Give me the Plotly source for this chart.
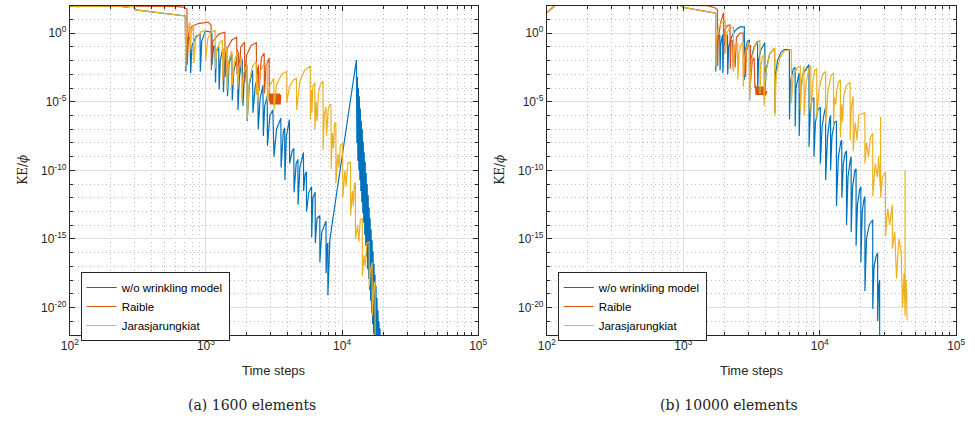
import plotly.graph_objects as go

# ---------------- data (time step, log10 of KE/phi) ----------------
# Panel (a) 1600 elements
a_wo = [(100,1.98),(115,1.93),(125,1.97),(180,1.98),(240,1.96),(255,1.88),(290,1.96),(305,1.7),(400,1.55),(550,1.4),(705,1.25),
        (712,-2.8),(722,-1.0),(750,-0.35),(765,-0.3),
        (772,-2.9),(790,-0.9),(850,-0.2),(905,-0.1),
        (910,-2.8),(930,-0.6),(990,0.15),(1060,0.1),(1105,0.0),
        (1110,-2.3),(1135,-1.0),(1165,-0.9),
        (1175,-3.6),(1195,-1.3),(1240,-1.0),
        (1250,-4.1),(1275,-2.0),(1330,-1.1),
        (1345,-4.3),(1370,-2.0),(1420,-1.2),
        (1440,-4.6),(1480,-2.2),(1550,-1.5),
        (1560,-4.9),(1600,-2.8),(1700,-1.7),
        (1720,-5.6),(1760,-3.2),(1850,-1.9),
        (1870,-5.3),(1920,-3.0),(2000,-2.3),
        (2010,-6.4),(2080,-3.8),(2200,-2.7),
        (2215,-5.8),(2300,-3.9),(2400,-3.1),
        (2420,-7.0),(2500,-4.8),(2620,-3.8),
        (2640,-7.5),(2700,-5.3),(2820,-4.6),
        (2830,-8.2),(2950,-6.0),(3100,-5.6),
        (3160,-9.0),(3300,-7.0),(3550,-6.2),
        (3565,-9.8),(3700,-7.2),(3790,-6.9),
        (3800,-10.7),(3900,-7.5),(4100,-6.3),
        (4120,-9.5),(4300,-8.6),(4420,-8.4),
        (4440,-11.6),(4600,-9.5),(4740,-9.2),
        (4750,-12.5),(4900,-9.8),(5200,-8.7),
        (5220,-11.5),(5350,-10.3),(5470,-10.1),
        (5480,-13.0),(5700,-11.6),(5970,-11.2),
        (5980,-14.9),(6100,-12.0),(6340,-11.6),
        (6360,-15.3),(6550,-13.5),(6860,-13.3),
        (6870,-16.7),(7100,-14.5),(7620,-13.7),
        (7630,-17.5),(7750,-15.5),(7860,-15.3),
        (7870,-19.1),(8140,-15.0),
        (12740,-1.96),(12850,-8.0),(12955,-3.2),(13060,-9.3),(13175,-4.0),(13290,-10.0),(13396,-4.6),(13510,-10.7),
        (13620,-5.5),(13730,-11.5),(13848,-6.4),(13960,-12.3),(14080,-7.0),(14200,-13.1),(14313,-7.9),(14430,-13.8),
        (14553,-8.7),(14670,-14.7),(14797,-9.4),(14920,-15.5),(15046,-10.2),(15170,-16.3),(15296,-11.0),(15420,-17.2),
        (15553,-11.8),(15680,-17.9),(15813,-12.7),(15945,-18.7),(16078,-13.5),(16210,-19.5),(16347,-14.3),(16480,-20.4),
        (16621,-15.1),(16760,-21.2),(16900,-15.9),(17040,-21.9),(17180,-16.8),(17320,-22.7),(17470,-17.6),(17610,-23.0),
        (17762,-18.4),(17910,-23.0),(18060,-19.3),(18210,-23.0),(18360,-20.2),(18520,-23.0),(18670,-21.0),(18830,-23.0),
        (18980,-21.5),(19100,-23.0)]

a_raible = [(100,1.99),(200,1.99),(400,1.98),(600,1.95),(680,1.9),(725,1.75),
            (730,-2.3),(745,0.0),(790,0.5),(880,0.7),(1040,0.8),
            (1090,0.6),(1095,-2.7),(1120,-0.6),(1250,-0.05),(1377,0.07),
            (1385,-3.2),(1420,-1.2),(1550,-0.5),(1681,-0.3),
            (1690,-3.0),(1700,-1.2),(1710,-3.2),(1730,-1.4),(1760,-3.0),(1800,-1.0),(1920,-0.65),
            (1930,-3.6),(1990,-1.6),(2150,-0.9),(2343,-0.7),
            (2360,-4.5),(2380,-2.5),(2400,-4.6),(2430,-2.3),(2460,-4.2),(2550,-1.8),(2678,-1.45),
            (2690,-4.4),(2760,-2.4),(2910,-1.8),
            (2920,-5.0),(2940,-4.4),(2970,-5.2),(3000,-4.4),(3030,-5.2),(3060,-4.4),(3090,-5.2),(3120,-4.4),
            (3150,-5.2),(3180,-4.4),(3210,-5.2),(3240,-4.4),(3270,-5.2),(3300,-4.4),(3330,-5.2),(3360,-4.4),
            (3390,-5.2),(3420,-4.4),(3450,-5.2),(3480,-4.4),(3510,-5.2),(3550,-4.5)]

a_jar = [(100,1.98),(115,1.93),(125,1.97),(180,1.98),(240,1.96),(255,1.88),(290,1.96),(305,1.7),(400,1.55),(550,1.4),(705,1.25),
         (710,-2.5),(718,-0.5),(745,0.4),(760,0.8),
         (768,-1.2),(780,0.1),(809,0.58),
         (815,-2.2),(840,-0.4),(920,0.1),(988,0.2),
         (995,-2.0),(1030,-0.4),(1100,0.1),(1167,0.2),
         (1175,-2.6),(1200,-1.2),(1280,-0.6),(1320,-0.55),
         (1330,-3.5),(1360,-1.5),(1420,-1.0),
         (1430,-4.1),(1470,-2.0),(1550,-1.3),
         (1560,-3.8),(1620,-2.0),(1700,-1.4),
         (1710,-4.1),(1740,-2.6),(1827,-1.7),
         (1835,-5.0),(1880,-3.0),(2000,-2.3),
         (2010,-6.3),(2080,-3.6),(2200,-2.4),(2343,-2.1),
         (2350,-4.5),(2380,-3.0),(2400,-5.0),(2500,-2.8),(2650,-2.3),(2814,-2.2),
         (2825,-5.0),(2950,-3.8),(3150,-3.3),(3165,-5.6),(3300,-3.8),(3600,-3.0),(3920,-2.8),
         (3930,-5.1),(4100,-3.9),(4400,-3.4),(4625,-3.3),
         (4635,-5.6),(4900,-3.5),(5300,-2.7),(5840,-2.4),
         (5850,-6.3),(5950,-4.2),(6000,-5.8),(6100,-3.9),(6300,-3.6),
         (6320,-7.0),(6450,-5.0),(6550,-6.4),(6700,-4.4),(6900,-3.8),(7245,-3.5),
         (7260,-8.5),(7400,-6.0),(7600,-5.4),(7700,-7.5),(7900,-5.6),(8100,-5.2),(8300,-5.2),
         (8320,-9.9),(8500,-7.3),(8650,-8.4),(8800,-6.6),(9000,-6.5),
         (9020,-10.9),(9300,-8.8),(9500,-9.8),(9700,-8.2),(10100,-8.0),
         (10120,-12.0),(10500,-10.0),(10700,-11.2),(11000,-9.5),(11530,-9.4),
         (11550,-13.3),(11900,-11.5),(12100,-12.6),(12300,-11.0),(12530,-10.9),
         (12550,-15.0),(13000,-14.0),(13300,-15.2),(13600,-13.6),(14080,-13.5),
         (14100,-17.7),(14500,-16.2),(14800,-17.0),(15200,-15.3),(15810,-15.2),
         (15830,-18.5),(16100,-17.4),(16400,-16.8),(16630,-16.7),
         (16650,-20.6),(16900,-19.0),(17200,-18.2),(17470,-18.1),
         (17490,-23.0)]

# Panel (b) 10000 elements
b_wo = [(100,1.5),(116,2.05),(300,2.05),(700,2.05),(950,2.02),(1000,1.88),(1300,1.65),(1726,1.45),
        (1730,-2.8),(1745,-0.9),(1800,-0.3),(1850,-0.15),
        (1860,-2.7),(1880,-0.8),(1940,-0.1),
        (1950,-2.9),(1975,-1.0),(2060,-0.2),(2108,-0.15),
        (2115,-3.0),(2150,-1.0),(2250,-0.3),(2400,0.2),(2600,0.45),(2800,0.45),
        (2810,-3.4),(2850,-1.2),(2950,-0.6),(3050,-0.5),
        (3060,-4.9),(3120,-2.0),(3300,-1.0),(3500,-0.6),
        (3510,-4.2),(3560,-2.0),(3700,-1.2),(3956,-0.7),
        (3965,-4.6),(4050,-2.6),(4300,-1.5),(4670,-1.1),
        (4680,-5.8),(4750,-3.0),(4900,-2.0),(5200,-1.4),(5500,-1.2),(5990,-1.2),
        (6000,-6.3),(6100,-3.5),(6400,-2.6),(6600,-2.5),
        (6610,-6.8),(6700,-4.0),(6900,-3.2),(7060,-2.9),
        (7070,-7.5),(7200,-4.5),(7500,-3.0),(8340,-2.3),
        (8350,-8.3),(8550,-5.5),(8800,-4.8),(9060,-4.7),
        (9070,-9.0),(9300,-6.5),(9700,-5.6),(10100,-5.4),
        (10110,-9.5),(10400,-6.8),(10800,-5.8),(11040,-5.4),
        (11050,-10.7),(11400,-7.6),(11800,-6.3),(12000,-6.0),
        (12010,-10.0),(12300,-7.5),(12800,-6.5),(13250,-6.4),
        (13260,-12.6),(13700,-9.0),(14300,-7.9),(14500,-7.8),
        (14510,-12.0),(14900,-9.5),(15400,-8.7),(15700,-8.6),
        (15710,-14.0),(16100,-10.5),(16700,-9.3),(16990,-9.0),
        (17000,-14.5),(17400,-11.2),(18100,-10.0),(18460,-9.9),
        (18470,-15.5),(18900,-12.5),(19600,-11.4),(20000,-11.2),
        (20010,-16.7),(20500,-13.0),(21000,-12.2),(21430,-11.9),
        (21440,-18.8),(22000,-15.0),(23000,-14.0),(24450,-13.6),
        (24460,-20.1),(25000,-17.0),(26000,-16.2),(26560,-16.0),
        (26570,-21.0),(27000,-18.5),(27470,-18.0),(27480,-23.0)]

b_raible = [(100,1.5),(116,2.05),(500,2.05),(1000,2.05),(1500,2.0),(1700,1.85),(1780,1.7),
            (1786,-2.4),(1800,-0.5),(1880,0.8),(1973,1.5),
            (1980,-1.5),(2000,0.2),(2100,0.55),(2200,0.6),
            (2210,-2.6),(2240,-0.5),(2300,-0.6),(2320,-2.7),(2350,-0.8),(2400,-2.5),(2450,-0.3),(2600,0.0),(2748,0.0),
            (2755,-3.2),(2780,-1.5),(2800,-3.0),(2830,-1.2),(2860,-3.2),(2900,-1.3),(3000,-0.9),(3100,-0.9),
            (3110,-3.6),(3200,-2.0),(3300,-1.8),
            (3352,-4.0),(3380,-3.8),(3410,-4.5),(3440,-3.9),(3470,-4.5),(3500,-3.9),(3530,-4.5),(3560,-3.9),
            (3590,-4.5),(3620,-3.9),(3650,-4.5),(3680,-3.9),(3710,-4.5),(3740,-3.9),(3770,-4.5),(3800,-3.9),
            (3830,-4.5),(3860,-3.9),(3890,-4.5),(3920,-3.9),(3950,-4.5),(3990,-3.9),(4030,-4.5),(4090,-4.2)]

b_jar = [(100,1.5),(116,2.05),(300,2.05),(700,2.05),(950,2.02),(1000,1.88),(1300,1.65),(1726,1.45),
         (1730,-2.4),(1745,-0.6),(1800,0.3),(1900,0.75),(2030,0.94),
         (2040,-1.5),(2080,0.0),(2200,0.4),(2328,0.43),
         (2335,-2.8),(2370,-1.2),(2450,-0.8),(2500,-0.75),
         (2510,-3.4),(2560,-1.5),(2650,-0.8),(2748,-0.65),
         (2755,-3.9),(2800,-1.8),(2950,-0.9),(3050,-0.7),
         (3060,-4.9),(3150,-2.0),(3350,-0.9),(3641,-0.5),
         (3650,-4.4),(3700,-2.4),(3800,-1.7),(3900,-1.6),
         (3910,-5.3),(4000,-3.0),(4300,-1.5),(4670,-1.1),
         (4680,-6.0),(4800,-3.0),(5100,-1.8),(5500,-1.3),(6185,-1.2),
         (6195,-5.1),(6400,-3.0),(6900,-2.5),(7200,-2.4),
         (7210,-5.6),(7400,-3.5),(7670,-2.4),
         (7680,-6.0),(7900,-3.8),(8300,-2.6),(8610,-2.4),
         (8620,-5.8),(8900,-3.5),(9200,-2.7),(9510,-2.6),
         (9520,-6.2),(9900,-4.0),(10500,-3.0),(11040,-2.8),
         (11050,-6.6),(11500,-4.2),(12100,-3.1),(12610,-2.9),
         (12620,-6.8),(12800,-4.7),(13100,-5.2),(13300,-4.3),(13700,-3.6),(14160,-3.4),
         (14170,-7.6),(14500,-5.2),(14700,-6.5),(15000,-4.6),(15700,-3.8),(16710,-3.6),
         (16720,-7.8),(17000,-5.5),(17570,-4.6),
         (17580,-8.6),(18200,-6.5),(18800,-7.8),(19300,-6.0),(20200,-5.9),(21430,-5.8),
         (21440,-9.5),(22000,-8.0),(22800,-9.0),(23500,-7.6),(24450,-7.3),
         (24460,-11.9),(25500,-9.5),(26500,-10.5),(27000,-9.0),
         (27900,-11.5),(27930,-6.1),(27960,-12.0),(28800,-10.5),(30350,-10.1),
         (30360,-14.8),(31500,-12.8),(32500,-14.0),(34060,-12.5),
         (34070,-15.7),(35500,-14.5),(36500,-17.9),(38000,-15.0),(39500,-16.0),(40500,-20.0),(41500,-17.5),(42200,-20.6),
         (42230,-10.0),(42260,-20.0),(43000,-18.0),(43650,-20.9)]

series_names = ["w/o wrinkling model", "Raible", "Jarasjarungkiat"]
series_colors = ["#0072BD", "#D95319", "#EDB120"]

x_tick_vals = [1e2, 1e3, 1e4, 1e5]
x_tick_text = ["10<sup>2</sup>", "10<sup>3</sup>", "10<sup>4</sup>", "10<sup>5</sup>"]
x_minor_vals = [m * 10 ** k for k in (2, 3, 4) for m in range(2, 10)]
y_tick_vals = [1e0, 1e-5, 1e-10, 1e-15, 1e-20]
y_tick_text = ["10<sup>0</sup>", "10<sup>-5</sup>", "10<sup>-10</sup>", "10<sup>-15</sup>", "10<sup>-20</sup>"]
y_minor_vals = [10.0 ** k for k in range(2, -23, -1) if k % 5 != 0]

captions = ["(a) 1600 elements", "(b) 10000 elements"]

# ---------------- figure ----------------
W, H = 975, 421
fig = go.Figure()

panels = [(a_wo, a_raible, a_jar), (b_wo, b_raible, b_jar)]
for p, group in enumerate(panels):
    for s, data in enumerate(group):
        t = [d[0] for d in data]
        ke = [10.0 ** d[1] for d in data]
        fig.add_trace(go.Scatter(
            x=t, y=ke, mode="lines", name=series_names[s],
            line=dict(color=series_colors[s], width=1.2),
            xaxis="x" if p == 0 else "x2", yaxis="y" if p == 0 else "y2",
            legend="legend" if p == 0 else "legend2", showlegend=True))

axis_font = dict(family="Liberation Sans, Arial, sans-serif", size=12, color="#262626")
common = dict(type="log", showline=True, linecolor="#262626", linewidth=1, mirror="allticks",
              ticks="inside", ticklen=5, tickcolor="#262626", tickfont=axis_font,
              showgrid=True, gridcolor="#e0e0e0", gridwidth=1, zeroline=False)
minor_common = dict(tickmode="array", ticks="inside", ticklen=3, tickcolor="#262626",
                    showgrid=True, gridcolor="#bdbdbd", griddash="1px,3px", gridwidth=1)

def xax(domain, anchor):
    return dict(common, domain=domain, anchor=anchor, range=[2, 5], tickmode="array",
                tickvals=x_tick_vals, ticktext=x_tick_text,
                minor=dict(minor_common, tickvals=x_minor_vals))

def yax(anchor):
    return dict(common, domain=[(H - 335) / H, (H - 5.7) / H], anchor=anchor, range=[-22, 2],
                tickmode="array", tickvals=y_tick_vals, ticktext=y_tick_text,
                minor=dict(minor_common, tickvals=y_minor_vals))

leg_common = dict(xanchor="left", yanchor="top", bordercolor="#262626", borderwidth=1,
                  bgcolor="white", font=dict(family="Liberation Sans, Arial, sans-serif", size=11.5, color="#000"),
                  tracegroupgap=0, itemwidth=30)

fig.update_layout(
    width=W, height=H, margin=dict(l=0, r=0, t=0, b=0),
    paper_bgcolor="white", plot_bgcolor="white", showlegend=True,
    xaxis=xax([62 / W, 478 / W], "y"),
    yaxis=yax("x"),
    xaxis2=xax([548 / W, 965 / W], "y2"),
    yaxis2=yax("x2"),
    legend=dict(leg_common, x=73 / W, y=1 - 272 / H),
    legend2=dict(leg_common, x=559 / W, y=1 - 272 / H),
)

ann = []
for cx, lx in [(270, 14), (756.5, 500)]:
    ann.append(dict(x=cx / W, y=1 - 370 / H, xref="paper", yref="paper", text="Time steps",
                    showarrow=False, xanchor="center", yanchor="middle",
                    font=dict(family="Liberation Sans, Arial, sans-serif", size=13, color="#262626")))
    ann.append(dict(x=lx / W, y=1 - 170 / H, xref="paper", yref="paper", text="KE/<i>ϕ</i>",
                    textangle=-90, showarrow=False, xanchor="center", yanchor="middle",
                    font=dict(family="DejaVu Serif, serif", size=12, color="#262626")))
cap_x = [248, 734]
for i in range(2):
    ann.append(dict(x=cap_x[i] / W, y=1 - 405 / H, xref="paper", yref="paper", text=captions[i],
                    showarrow=False, xanchor="center", yanchor="middle",
                    font=dict(family="DejaVu Serif, serif", size=14, color="#222")))
fig.update_layout(annotations=ann)

fig.write_html("out.html")
